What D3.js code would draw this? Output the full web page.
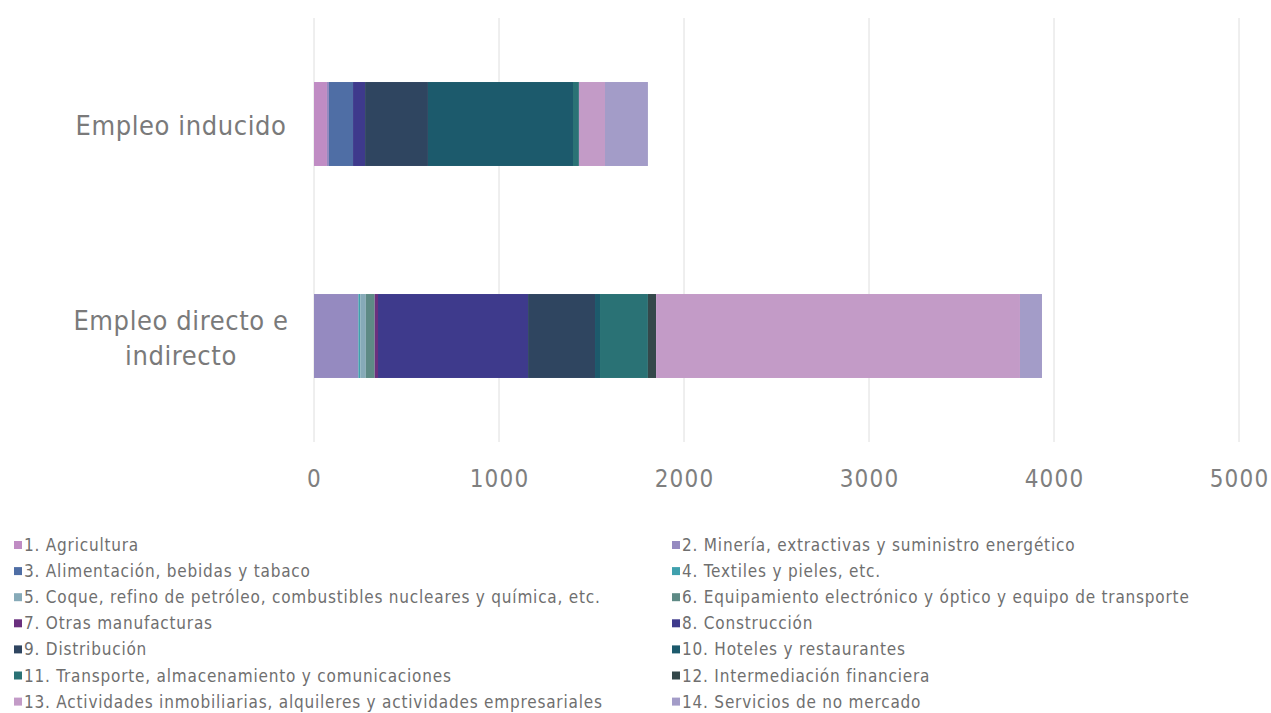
<!DOCTYPE html>
<html>
<head>
<meta charset="utf-8">
<script src="https://cdn.jsdelivr.net/npm/d3@7"></script>
<style>
  html, body { margin: 0; padding: 0; background: #ffffff; }
  svg { display: block; }
  text { font-family: "DejaVu Sans Condensed", "Liberation Sans Narrow", "Roboto", sans-serif; }
</style>
</head>
<body>
<svg id="chart" width="1271" height="713"></svg>
<script>
const categories = ["Empleo inducido", "Empleo directo e indirecto"];
const sectors = [
  "1. Agricultura",
  "2. Minería, extractivas y suministro energético",
  "3. Alimentación, bebidas y tabaco",
  "4. Textiles y pieles, etc.",
  "5. Coque, refino de petróleo, combustibles nucleares y química, etc.",
  "6. Equipamiento electrónico y óptico y equipo de transporte",
  "7. Otras manufacturas",
  "8. Construcción",
  "9. Distribución",
  "10. Hoteles y restaurantes",
  "11. Transporte, almacenamiento y comunicaciones",
  "12. Intermediación financiera",
  "13. Actividades inmobiliarias, alquileres y actividades empresariales",
  "14. Servicios de no mercado"
];
const colors = ["#c08cc4", "#958ac0", "#4f6ea5", "#3fa0ad", "#86aab8", "#5e8a85", "#6a2f7e",
                "#3e3a8c", "#2f4560", "#1c5a6c", "#2a7275", "#34484a", "#c39bc7", "#a39cc8"];
// values per sector for each category
const inducido = [70, 11, 130, 0, 0, 0, 0, 65, 340, 784, 32, 0, 141, 232];
const directo  = [0, 240, 0, 10, 30, 48, 18, 811, 362, 27, 259, 44, 1967, 119];
const xTicks = [0, 1000, 2000, 3000, 4000, 5000];

const svg = d3.select("#chart");
const xScale = d3.scaleLinear().domain([0, 5000]).range([314, 1239]);
const yScale = d3.scaleBand().domain(categories).range([18, 442]).paddingInner(0.604).paddingOuter(0.302);

// gridlines
svg.append("g").selectAll("line").data(xTicks).join("line")
  .attr("x1", d => xScale(d)).attr("x2", d => xScale(d))
  .attr("y1", 18).attr("y2", 442)
  .attr("stroke", "#dedede").attr("stroke-width", 1);

// axis tick labels
const xAxis = d3.axisBottom(xScale).tickValues(xTicks).tickSize(0).tickPadding(0).tickFormat(d3.format("d"));
const ax = svg.append("g").attr("transform", "translate(0,470)").call(xAxis);
ax.select(".domain").remove();
ax.selectAll("text").attr("font-size", 24).attr("fill", "#7f7f7f")
  .attr("letter-spacing", 1.2)
  .style("font-family", "\"DejaVu Sans Condensed\", \"Liberation Sans Narrow\", sans-serif");

// stacked data
const rows = [inducido, directo];
const stackInput = categories.map((c, i) => {
  const o = { cat: c };
  sectors.forEach((s, j) => { o[s] = rows[i][j]; });
  return o;
});
const stacked = d3.stack().keys(sectors)(stackInput);
const colorScale = d3.scaleOrdinal().domain(sectors).range(colors);

svg.append("g").selectAll("g").data(stacked).join("g")
  .attr("fill", d => colorScale(d.key))
  .selectAll("rect").data(d => d).join("rect")
  .attr("x", d => xScale(d[0]))
  .attr("width", d => Math.max(0, xScale(d[1]) - xScale(d[0])))
  .attr("y", d => yScale(d.data.cat))
  .attr("height", yScale.bandwidth());

// category labels
const catLines = { "Empleo inducido": ["Empleo inducido"], "Empleo directo e indirecto": ["Empleo directo e", "indirecto"] };
categories.forEach(c => {
  const lines = catLines[c];
  const cy = yScale(c) + yScale.bandwidth() / 2;
  const lh = 35;
  const t = svg.append("text")
    .attr("text-anchor", "middle")
    .attr("font-size", 27).attr("letter-spacing", 0.6).attr("fill", "#7a7a7a");
  lines.forEach((l, i) => {
    t.append("tspan").attr("x", 181)
      .attr("y", cy + (i - (lines.length - 1) / 2) * lh + 11)
      .text(l);
  });
});

// legend
const leg = svg.append("g");
sectors.forEach((s, i) => {
  const col = i % 2, row = Math.floor(i / 2);
  const x = col === 0 ? 14 : 672;
  const y = 545 + row * 26.1;
  const g = leg.append("g").attr("transform", `translate(${x},${y})`);
  g.append("rect").attr("x", 0).attr("y", -4).attr("width", 8).attr("height", 8).attr("fill", colors[i]);
  g.append("text").attr("x", 10).attr("y", 6).attr("font-size", 17).attr("letter-spacing", 0.8)
    .attr("fill", "#6f6f6f").text(s);
});
</script>
</body>
</html>
